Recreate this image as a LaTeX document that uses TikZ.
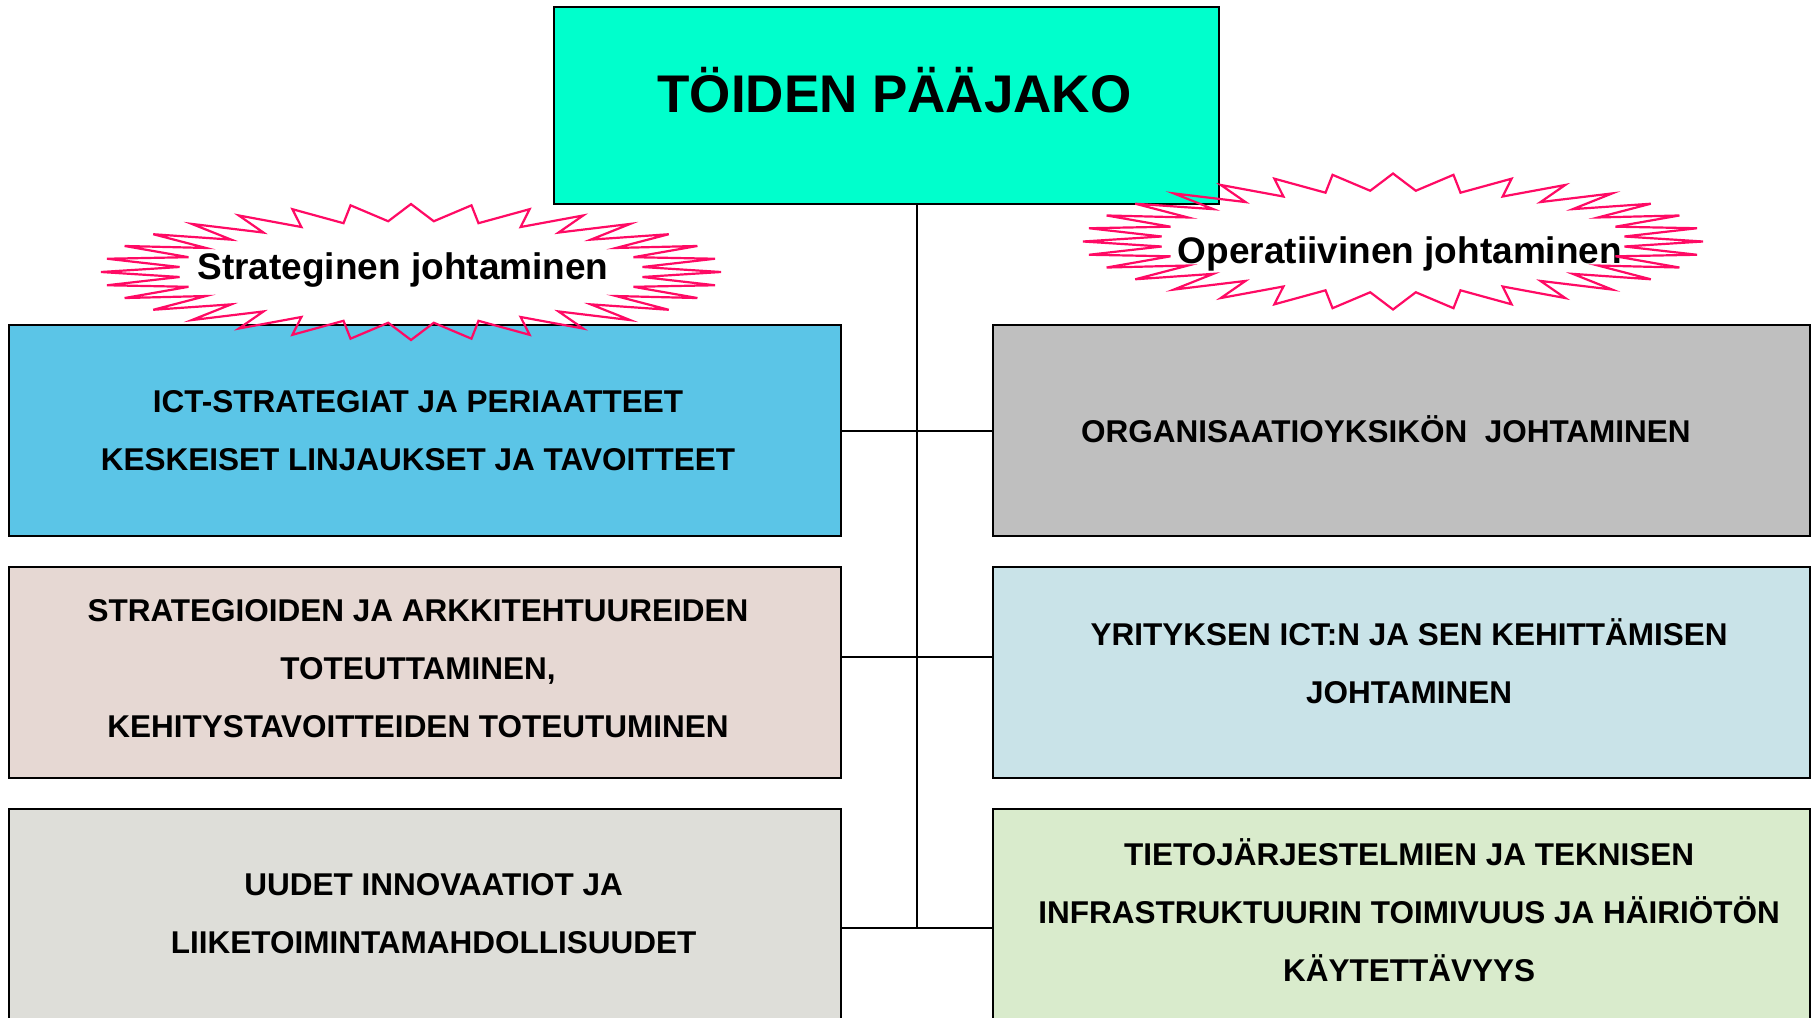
\documentclass[tikz,border=0pt]{standalone}
\usepackage{fontspec}
\setmainfont{Liberation Sans}
\definecolor{topcyan}{HTML}{00FFCC}
\definecolor{ictblue}{HTML}{5BC5E7}
\definecolor{stratpink}{HTML}{E6D8D3}
\definecolor{innogray}{HTML}{DEDED9}
\definecolor{orggray}{HTML}{BFBFBF}
\definecolor{yritblue}{HTML}{C9E3E8}
\definecolor{tietogreen}{HTML}{D9EBCC}
\definecolor{burstred}{HTML}{FF0A64}
\tikzset{
  box/.style={draw=black, line width=1.2pt, rectangle},
  boxtext/.style={align=center, font=\bfseries\fontsize{15.75}{29}\selectfont},
  leftbox/.style={box, minimum width=416pt, minimum height=105.5pt},
  rightbox/.style={box, minimum width=408.5pt, minimum height=105.5pt},
  burst/.style={draw=burstred, line width=1.1pt, line join=miter},
  bursttext/.style={font=\bfseries\fontsize{18.5}{22}\selectfont, anchor=base},
  link/.style={line width=1pt}
}
\newcommand{\tahti}{\draw[burst] (0,68) \foreach \k in {1,...,63}{ -- ({310*(1-0.25*mod(\k,2))*cos(90+5.625*\k)},{68*(1-0.25*mod(\k,2))*sin(90+5.625*\k)})} -- cycle;}
\begin{document}
\begin{tikzpicture}[x=0.5pt,y=-0.5pt]
    \useasboundingbox (0,0) rectangle (1814,1017);
    %boxes
    \node[box, fill=topcyan, minimum width=332.5pt, minimum height=98.5pt,
      label={[font=\bfseries\fontsize{26.5}{30}\selectfont, xshift=4pt, yshift=7.5pt]center:TÖIDEN PÄÄJAKO}] (paajako) at (886.5,105.5) {};
    \node[leftbox, fill=ictblue,
      label={[boxtext, xshift=-3.5pt]center:{ICT-STRATEGIAT JA PERIAATTEET\\KESKEISET LINJAUKSET JA TAVOITTEET}}] (ict) at (425,430.5) {};
    \node[leftbox, fill=stratpink,
      label={[boxtext, xshift=-3.5pt, yshift=1.7pt]center:{STRATEGIOIDEN JA ARKKITEHTUUREIDEN\\TOTEUTTAMINEN,\\KEHITYSTAVOITTEIDEN TOTEUTUMINEN}}] (strat) at (425,672.5) {};
    \node[leftbox, fill=innogray, minimum height=110.5pt,
      label={[boxtext, xshift=4.3pt, yshift=2.9pt]center:{UUDET INNOVAATIOT JA\\LIIKETOIMINTAMAHDOLLISUUDET}}] (uudet) at (425,919.5) {};
    \node[rightbox, fill=orggray,
      label={[boxtext, xshift=-7.8pt, yshift=0.6pt]center:{ORGANISAATIOYKSIKÖN \ JOHTAMINEN}}] (org) at (1401.5,430.5) {};
    \node[rightbox, fill=yritblue,
      label={[boxtext, xshift=3.8pt, yshift=5.8pt]center:{YRITYKSEN ICT:N JA SEN KEHITTÄMISEN\\JOHTAMINEN}}] (yrit) at (1401.5,672.5) {};
    \node[rightbox, fill=tietogreen, minimum height=110.5pt,
      label={[boxtext, xshift=3.8pt, yshift=4.6pt]center:{TIETOJÄRJESTELMIEN JA TEKNISEN\\INFRASTRUKTUURIN TOIMIVUUS JA HÄIRIÖTÖN\\KÄYTETTÄVYYS}}] (tieto) at (1401.5,919.5) {};
    %draw lines
    \coordinate (runko) at (917,928);
    \coordinate (haara) at (917,657);
    \draw[link, line width=1.3pt] (paajako.south -| runko) -- (runko);
    \draw[link] (ict.east) -- (org.west);
    \draw[link] (strat.east |- haara) -- (yrit.west |- haara);
    \draw[link] (uudet.east |- runko) -- (tieto.west |- runko);
    %starbursts
    \node[bursttext] (strateginen) at (403,279) {Strateginen johtaminen};
    \node[bursttext] (operatiivinen) at (1400,263) {Operatiivinen johtaminen};
    \coordinate (strategia) at (411,272);
    \coordinate (operatiivi) at (1393,241.5);
    \begin{scope}[shift={(strategia)}] \tahti \end{scope}
    \begin{scope}[shift={(operatiivi)}] \tahti \end{scope}
\end{tikzpicture}
\end{document}
